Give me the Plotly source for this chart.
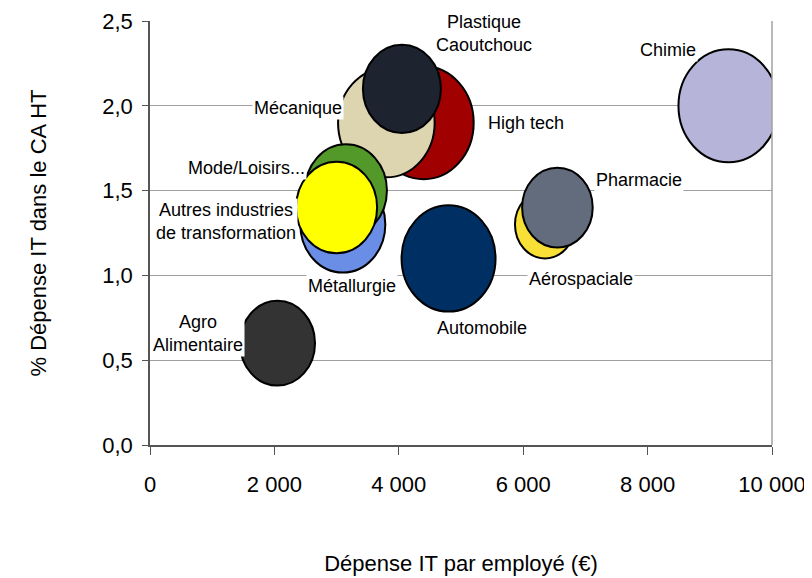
import plotly.graph_objects as go

# ---- data ----
sectors = ["Chimie", "Agro<br>Alimentaire", "Automobile", "Aérospaciale", "Pharmacie",
           "High tech", "Mécanique", "Plastique<br>Caoutchouc", "Métallurgie",
           "Mode/Loisirs...", "Autres industries<br>de transformation"]
it_per_employee = [9300, 2050, 4800, 6350, 6550, 4400, 3800, 4050, 3100, 3150, 3000]
it_pct_revenue = [2.0, 0.6, 1.1, 1.3, 1.4, 1.9, 1.9, 2.1, 1.3, 1.5, 1.4]
bubble_size = [50, 37.5, 47, 30, 35.3, 50, 48.3, 39, 42.5, 41, 40.5]
x_ticks = [0, 2000, 4000, 6000, 8000, 10000]
y_ticks = [0.0, 0.5, 1.0, 1.5, 2.0, 2.5]

# ---- styles ----
colors = ["#b6b4d8", "#333333", "#003063", "#f8e036", "#636c7c", "#a00000",
          "#ddd5b0", "#1e2330", "#6a8ee6", "#52992a", "#ffff00"]
label_shift = [(-60, 56), (-80, 10), (33, -70), (36, -54), (82, 28), (102, 0),
               (-88, 15), (82, 55), (9, -61), (-99, 23), (-111, -14)]

W, H = 812, 578
ML, MR, MT, MB = 142, 48, 13, 141
plot_w = W - ML - MR
plot_h = H - MT - MB
x_range = [0, 10000]
y_range = [0, 2.5]
px_per_x = plot_w / (x_range[1] - x_range[0])
px_per_y = plot_h / (y_range[1] - y_range[0])
aspect = 1.13

FONT = "Liberation Sans, Arial, sans-serif"

fig = go.Figure()
# invisible trace to establish axes
fig.add_trace(go.Scatter(x=it_per_employee, y=it_pct_revenue, mode="markers",
                         marker=dict(opacity=0), hoverinfo="text",
                         text=[s.replace("<br>", " ") for s in sectors], showlegend=False))

shapes = []
for x, y, s, c in zip(it_per_employee, it_pct_revenue, bubble_size, colors):
    rx = s / px_per_x
    ry = s * aspect / px_per_y
    shapes.append(dict(type="circle", xref="x", yref="y",
                       x0=x - rx, x1=x + rx, y0=y - ry, y1=y + ry,
                       fillcolor=c, line=dict(color="black", width=2), layer="above"))
# right border of plot area
shapes.append(dict(type="line", xref="paper", yref="paper", x0=1, x1=1, y0=0, y1=1,
                   line=dict(color="#a0a0a0", width=1.5), layer="above"))

annotations = []
for name, x, y, (dx, dy) in zip(sectors, it_per_employee, it_pct_revenue, label_shift):
    annotations.append(dict(x=x, y=y, xref="x", yref="y", text=name, showarrow=False,
                            xshift=dx, yshift=dy, bgcolor="white",
                            font=dict(family=FONT, size=18, color="black")))

fig.update_layout(
    width=W, height=H,
    margin=dict(l=ML, r=MR, t=MT, b=MB, autoexpand=False),
    paper_bgcolor="white", plot_bgcolor="white",
    separators=", ",
    font=dict(family=FONT, size=22, color="black"),
    shapes=shapes, annotations=annotations,
    xaxis=dict(range=x_range, tickvals=x_ticks, tickformat=",d", automargin=False,
               showgrid=False, zeroline=False,
               showline=True, linecolor="#555555", linewidth=2,
               ticks="outside", ticklen=8, tickcolor="#555555", tickwidth=1,
               ticklabelstandoff=11, tickfont=dict(size=22),
               title=dict(text="Dépense IT par employé (€)", standoff=59,
                          font=dict(size=22))),
    yaxis=dict(range=y_range, tickvals=y_ticks, tickformat=".1f", automargin=False,
               showgrid=True, gridcolor="#a0a0a0", gridwidth=1, zeroline=False,
               showline=True, linecolor="#555555", linewidth=1.5,
               ticks="outside", ticklen=6, tickcolor="#555555",
               ticklabelstandoff=5, tickfont=dict(size=22),
               title=dict(text="% Dépense IT dans le CA HT", standoff=50,
                          font=dict(size=22))),
)

fig.write_html("out.html")
